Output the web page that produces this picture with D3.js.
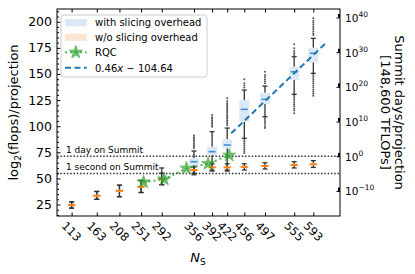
<!DOCTYPE html>
<html>
<head>
<meta charset="utf-8">
<script src="https://cdn.jsdelivr.net/npm/d3@7"></script>
<style>
body{margin:0;background:#fff;}
svg{display:block;font-family:"DejaVu Sans",sans-serif;}
</style>
</head>
<body>
<svg id="chart" width="415" height="274"></svg>
<script>
(function(){
    // N_S categories (numeric x positions)
    var ns = [113,163,208,251,292,356,392,422,456,497,555,593];

    // box stats [lo whisker, q1, median, q3, hi whisker]
    var withStats = [
        [21.5,23.8,24.5,25.2,27.5],
        [30,32.5,33.4,34.3,37.5],
        [32.5,37.3,38.2,39.1,43.5],
        [36.5,41.1,42,42.9,48],
        [44,48.5,50,53,60],
        [55,62.8,66,69.2,76.2],
        [58,72.4,75.6,80.3,94.7],
        [58,78.8,82,87.4,98.2],
        [88.4,104.3,116.1,125,134.6],
        [109.1,121.2,125.7,132,138.4],
        [130.5,144.2,152.1,156.9,166.5],
        [150.6,161.1,169.8,175.1,184.1]
    ];
    var withoutStats = [
        [21.5,23.8,24.5,25.2,27.5],
        [30,32.5,33.4,34.3,37.5],
        [32.5,37.3,38.2,39.1,43.5],
        [36.5,41.1,42,42.9,48],
        [44,48.5,49.4,50.3,55],
        [53.5,57.2,58,58.8,61],
        [57,59.8,60.6,61.4,64],
        [57,59.8,60.6,61.4,64],
        [58,60.2,61,61.8,64],
        [59,61.1,61.9,62.7,65],
        [60,62,62.8,63.6,66],
        [60.5,62.7,63.5,64.3,67]
    ];
    var withFliers = [
        [],[],[],[],[],
        [79,80.5,82,83.5,85,86.5,88,89.5,91],
        [99.5,101,102.5,104,105.5,107,108.5,110.7],
        [101,102.5,104,105.5,107,108.5,110,111.5,113,114.5,116,117.5,119,120.5,122,124,126.7],
        [137,139,141,145,86.8,85,83.2,81.4,79.6,77.8,76,74.3],
        [141,143,145,147,149,152.1,107.8,106,104,102,100,98.2],
        [168.1,170,172,174.5,178.4,128.9,127,125,123,121,119,117,115,112.3],
        [187.3,189,191,193,195,197,199,201,203.3,149,147,145,143,141,139,137,135,133,131,129.2]
    ];

    // RQC points
    var rqcN = [256,297,341,384,426];
    var rqcVal = [46.5,49.1,59.7,64.1,72.1];

    // fit 0.46x - 104.64
    var fitCoef = [0.46,-104.64];
    var fitRange = [430,616];

    // reference lines (log2 flops)
    var dayLine = 71.2, secLine = 54.8;

    var leftTicks = [25,50,75,100,125,150,175,200];
    var rightTicks = [-10,0,10,20,30,40];

    var L = 57, R = 340, T = 9, B = 216;
    var yDom = [14,212.2];
    var LOG2 = Math.log10(2);

    var svg = d3.select('#chart');
    var x = d3.scaleLinear().domain([84,646]).range([L,R]);
    var y = d3.scaleLinear().domain(yDom).range([B,T]);
    var yr = d3.scaleLinear()
        .domain([(yDom[0]-dayLine)*LOG2, (yDom[1]-dayLine)*LOG2])
        .range([B,T]);

    var dark = '#333';

    // horizontal reference lines
    [dayLine, secLine].forEach(function(v){
        svg.append('line')
            .attr('x1', L).attr('x2', R)
            .attr('y1', y(v)).attr('y2', y(v))
            .style('stroke', dark).style('stroke-width', 1.5)
            .style('stroke-dasharray', '1.5,1.8');
    });
    svg.append('text').attr('x', 66).attr('y', y(dayLine)-3)
        .style('font-size','9px').text('1 day on Summit');
    svg.append('text').attr('x', 66).attr('y', y(secLine)-3)
        .style('font-size','9px').text('1 second on Summit');

    // boxes
    var bw = 5, cw = 2.5;
    function drawBox(cx, s, fl, fill, medColor, medW){
        var g = svg.append('g');
        g.selectAll('circle').data(fl).enter().append('circle')
            .attr('cx', cx).attr('cy', function(d){ return y(d) })
            .attr('r', 1).style('fill', '#555');
        [[s[0],s[1]],[s[3],s[4]]].forEach(function(p){
            g.append('line').attr('x1',cx).attr('x2',cx)
                .attr('y1',y(p[0])).attr('y2',y(p[1]))
                .style('stroke',dark).style('stroke-width',1.3);
        });
        [s[0],s[4]].forEach(function(v){
            g.append('line').attr('x1',cx-cw).attr('x2',cx+cw)
                .attr('y1',y(v)).attr('y2',y(v))
                .style('stroke',dark).style('stroke-width',1.3);
        });
        g.append('rect').attr('x',cx-bw).attr('width',bw*2)
            .attr('y',y(s[3])).attr('height',y(s[1])-y(s[3]))
            .style('fill',fill);
        g.append('line').attr('x1',cx-bw+1.5).attr('x2',cx+bw-1.5)
            .attr('y1',y(s[2])).attr('y2',y(s[2]))
            .style('stroke',medColor).style('stroke-width',medW);
    }
    ns.forEach(function(n,i){
        drawBox(x(n), withStats[i], withFliers[i], '#dbe8f5', '#3d8fd1', 1.6);
    });
    ns.forEach(function(n,i){
        drawBox(x(n), withoutStats[i], [], '#fde7d4', '#ff7f0e', 2);
    });

    // RQC
    var green = '#2ca02c';
    svg.append('path')
        .datum(rqcN.map(function(n,i){ return [n, rqcVal[i]] }))
        .attr('d', d3.line().x(function(d){ return x(d[0]) }).y(function(d){ return y(d[1]) }))
        .style('fill','none').style('stroke',green).style('stroke-width',2)
        .style('stroke-dasharray','2,3').style('opacity',0.8);
    var star = d3.symbol().type(d3.symbolStar).size(52);
    svg.selectAll('.rqc').data(rqcN).enter().append('path')
        .attr('class','rqc')
        .attr('transform', function(d,i){ return 'translate('+x(d)+','+y(rqcVal[i])+')' })
        .attr('d', star)
        .style('fill', green).style('stroke', green).style('stroke-width',1)
        .style('opacity',0.7);

    // fit line
    svg.append('line')
        .attr('x1', x(fitRange[0])).attr('y1', y(fitCoef[0]*fitRange[0]+fitCoef[1]))
        .attr('x2', x(fitRange[1])).attr('y2', y(fitCoef[0]*fitRange[1]+fitCoef[1]))
        .style('stroke','#1f77b4').style('stroke-width',2)
        .style('stroke-dasharray','6,3.5');

    // axes
    var minor = d3.range(15,212,5).filter(function(v){ return v%25 !== 0 });
    var ax = svg.append('g').attr('transform','translate('+L+',0)')
        .call(d3.axisLeft(y).tickValues(leftTicks).tickSize(-3.5).tickPadding(5));
    svg.append('g').attr('transform','translate('+L+',0)')
        .call(d3.axisLeft(y).tickValues(minor).tickSize(-2).tickFormat(''));
    ax.selectAll('text').style('font-size','12.5px').style('font-family','DejaVu Sans').style('fill','#000');
    svg.append('g').attr('transform','translate(0,'+B+')')
        .call(d3.axisBottom(x).tickValues(ns).tickSize(-3.5).tickFormat(''));
    svg.append('g').attr('transform','translate(0,'+T+')')
        .call(d3.axisTop(x).tickValues(ns).tickSize(-3.5).tickFormat(''));
    svg.append('g').attr('transform','translate('+R+',0)')
        .call(d3.axisRight(yr).tickValues(rightTicks).tickSize(-3.5).tickFormat(''));
    var rminor = [];
    rightTicks.forEach(function(k){
        [2,3,4,5,6,7,8,9].forEach(function(m){ rminor.push(k+Math.log10(m)) });
    });
    svg.append('g').attr('transform','translate('+R+',0)')
        .call(d3.axisRight(yr).tickValues(rminor).tickSize(-2).tickFormat(''));
    svg.selectAll('.domain').remove();
    svg.selectAll('.tick line').style('stroke','#000').style('stroke-width',1);

    svg.selectAll('.xlab').data(ns).enter().append('text')
        .attr('class','xlab')
        .attr('transform', function(d){ return 'translate('+x(d)+',231.5) rotate(45)' })
        .attr('text-anchor','middle').attr('dominant-baseline','central')
        .style('font-size','11.5px').text(function(d){ return d });

    var rl = svg.selectAll('.rlab').data(rightTicks).enter().append('text')
        .attr('class','rlab')
        .attr('x', 345).attr('y', function(d){ return yr(d)+4.5 })
        .style('font-size','10.5px');
    rl.append('tspan').text('10');
    rl.append('tspan').attr('dy',-5).style('font-size','7.5px')
        .text(function(d){ return d < 0 ? '\u2212'+(-d) : d });

    svg.append('rect').attr('x',L).attr('y',T).attr('width',R-L).attr('height',B-T)
        .style('fill','none').style('stroke','#000').style('stroke-width',1);

    // axis labels
    var yl = svg.append('text')
        .attr('transform','translate(18,'+((T+B)/2)+') rotate(-90)')
        .attr('text-anchor','middle').style('font-size','13px');
    yl.append('tspan').text('log');
    yl.append('tspan').attr('dy',3).style('font-size','9px').text('2');
    yl.append('tspan').attr('dy',-3).text('(flops)/projection');

    svg.append('text')
        .attr('transform','translate(395,'+((T+B)/2)+') rotate(90)')
        .attr('text-anchor','middle').style('font-size','13px')
        .text('Summit days/projection');
    svg.append('text')
        .attr('transform','translate(381,'+((T+B)/2)+') rotate(90)')
        .attr('text-anchor','middle').style('font-size','13px')
        .text('[148,600 TFLOPs]');

    var xl = svg.append('text').attr('x',198).attr('y',262)
        .attr('text-anchor','middle').style('font-size','13px');
    xl.append('tspan').style('font-style','italic').text('N');
    xl.append('tspan').attr('dy',3).style('font-size','9px').text('S');

    // legend
    var lg = svg.append('g');
    lg.append('rect').attr('x',61).attr('y',15).attr('width',146).attr('height',62)
        .attr('rx',2.5).style('fill','#fff').style('fill-opacity',0.8)
        .style('stroke','#ccc').style('stroke-width',1);
    var ly = [22.7,37.3,52.3,67.7];
    lg.append('rect').attr('x',65).attr('y',ly[0]-3.7).attr('width',21.7).attr('height',7.4)
        .style('fill','#dbe8f5');
    lg.append('rect').attr('x',65).attr('y',ly[1]-3.7).attr('width',21.7).attr('height',7.4)
        .style('fill','#fde7d4');
    lg.append('line').attr('x1',65).attr('x2',86.7).attr('y1',ly[2]).attr('y2',ly[2])
        .style('stroke',green).style('stroke-width',2).style('stroke-dasharray','2,3').style('opacity',0.8);
    lg.append('path').attr('transform','translate(75.8,'+ly[2]+')').attr('d',star)
        .style('fill',green).style('stroke',green).style('opacity',0.7);
    lg.append('line').attr('x1',65).attr('x2',86.7).attr('y1',ly[3]).attr('y2',ly[3])
        .style('stroke','#1f77b4').style('stroke-width',2).style('stroke-dasharray','6,3.5');
    var labels = ['with slicing overhead','w/o slicing overhead','RQC'];
    labels.forEach(function(t,i){
        lg.append('text').attr('x',95).attr('y',ly[i]).attr('dominant-baseline','central')
            .style('font-size','10px').text(t);
    });
    var ft = lg.append('text').attr('x',95).attr('y',ly[3]).attr('dominant-baseline','central')
        .style('font-size','10px');
    ft.append('tspan').text('0.46');
    ft.append('tspan').style('font-style','italic').text('x');
    ft.append('tspan').text(' \u2212 104.64');
})();
</script>
</body>
</html>
